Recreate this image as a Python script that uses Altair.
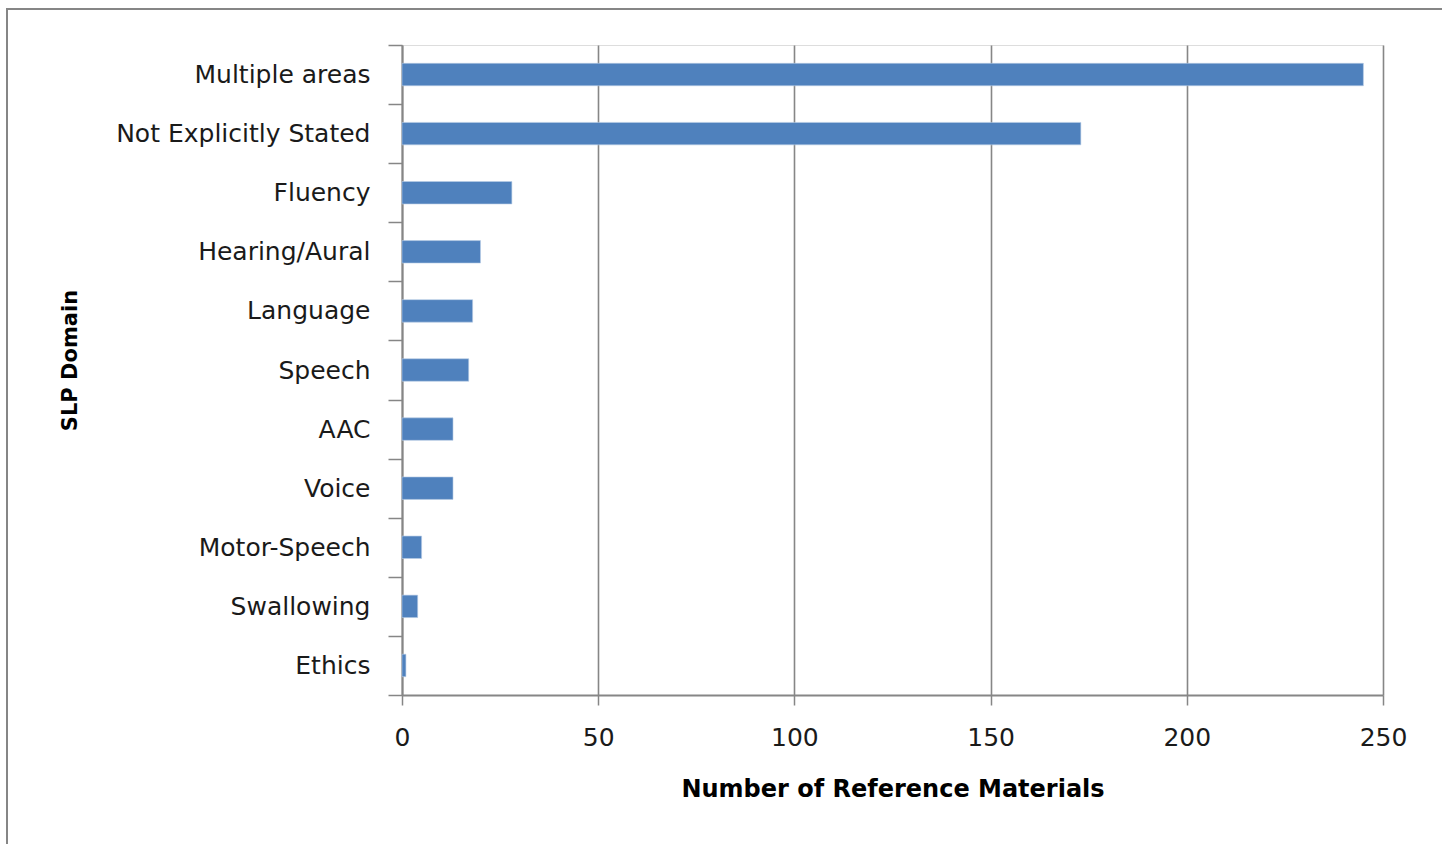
import altair as alt
import pandas as pd

categories = ["Multiple areas", "Not Explicitly Stated", "Fluency", "Hearing/Aural",
              "Language", "Speech", "AAC", "Voice", "Motor-Speech", "Swallowing", "Ethics"]
values = [245, 173, 28, 20, 18, 17, 13, 13, 5, 4, 1]
x_ticks = [0, 50, 100, 150, 200, 250]

df = pd.DataFrame({"domain": categories, "count": values})

FONT = "DejaVu Sans"
GRAY = "#868686"

bars = alt.Chart(df).mark_bar(color="#4F81BD", stroke="#B9CDE5", strokeWidth=0.6,
                              height=alt.RelativeBandSize(0.38)).encode(
    x=alt.X("count:Q",
            scale=alt.Scale(domain=[0, 250], nice=False, zero=True),
            axis=alt.Axis(values=x_ticks, title="Number of Reference Materials",
                          grid=True, gridColor=GRAY, gridWidth=1.6,
                          domainColor=GRAY, domainWidth=2,
                          tickColor=GRAY, tickSize=10, tickWidth=1.5,
                          labelFlush=False,
                          labelPadding=20, labelFontSize=25, labelFont=FONT,
                          labelColor="#1a1a1a",
                          titleFont=FONT, titleFontSize=24, titleFontWeight="bold",
                          titleColor="#000000", titlePadding=27)),
    y=alt.Y("domain:N", sort=categories,
            scale=alt.Scale(paddingInner=0, paddingOuter=0),
            axis=alt.Axis(title="SLP Domain", tickBand="extent",
                          domainColor=GRAY, domainWidth=2,
                          tickColor=GRAY, tickSize=14, tickWidth=1.5,
                          labelPadding=18, labelFontSize=25, labelFont=FONT,
                          labelLimit=500,
                          labelColor="#1a1a1a", grid=False,
                          titleFont=FONT, titleFontSize=21, titleFontWeight="bold",
                          titleColor="#000000", titleX=-322, titleY=315)),
)

frame = alt.Chart(df).mark_rect(fill=None, stroke=GRAY, strokeWidth=2).encode(
    x=alt.value(-395), x2=alt.value(1045), y=alt.value(-36), y2=alt.value(805)
)

chart = alt.layer(frame, bars).properties(
    width=981, height=650,
    autosize=alt.AutoSizeParams(type="none"),
    padding={"left": 402, "top": 45, "right": 59, "bottom": 149},
).configure_view(stroke=None).configure(background="white")

chart.save("out.html", embed_options={"renderer": "svg", "actions": False})
